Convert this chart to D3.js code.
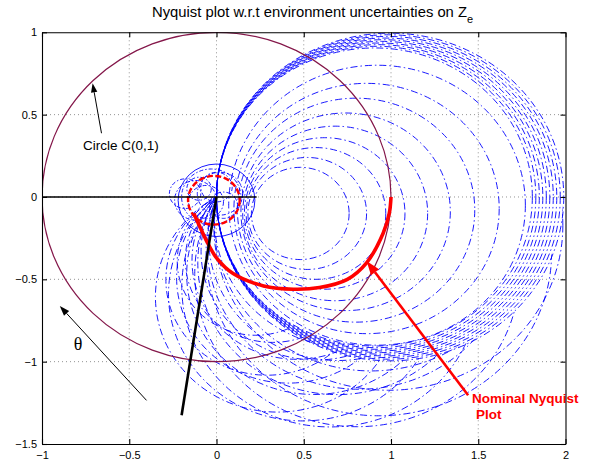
<!DOCTYPE html>
<meta charset="utf-8">
<style>
 body { margin: 0; background: white; }
 svg { font-family: 'Liberation Sans', Arial, Helvetica, sans-serif; display: block; }
</style>
<svg width="597" height="468"></svg>
<script src="https://d3js.org/d3.v7.min.js"></script>
<script>
 var nominalRe = [1.0, 0.99, 0.955, 0.86, 0.75, 0.59, 0.44, 0.27, 0.095, 0.0, -0.06, -0.1, -0.13];
 var nominalIm = [0.0, -0.1, -0.22, -0.4, -0.5, -0.55, -0.56, -0.54, -0.465, -0.37, -0.26, -0.17, -0.1];
 // small nominal loop round the origin: centre and radius
 var nomLoop = [-0.015, -0.02, 0.148];

 // outer band of uncertain plots: loops through the origin, radius
 var bandRadius = [0.995, 0.985, 0.975, 0.965, 0.955, 0.945, 0.935, 0.925, 0.915, 0.905];
 // inner uncertain plots, nested inside the band: centre and radius
 var innerRe = [0.92, 0.86, 0.8, 0.74, 0.68, 0.62, 0.57, 0.52, 0.48];
 var innerIm = [-0.05, -0.07, -0.08, -0.09, -0.1, -0.1, -0.1, -0.1, -0.1];
 var innerR = [0.85, 0.76, 0.68, 0.6, 0.53, 0.46, 0.4, 0.34, 0.28];
 // rotated uncertain plots (outside the band): centre direction (deg) and radius
 var rotAngle = [-10, -10, -10, -20, -20, -20, -30, -30, -30, -40, -40, -40, -50, -50, -50, -60, -60, -60];
 var rotRadius = [1.0, 0.9, 0.78, 0.99, 0.87, 0.74, 0.93, 0.8, 0.66, 0.85, 0.73, 0.6, 0.77, 0.64, 0.5, 0.7, 0.58, 0.45];
 // small loops of the uncertain plots near the origin
 var loopRe = [0.0, -0.03, 0.02, -0.06, 0.04, -0.1, -0.12, 0.0, -0.18];
 var loopIm = [-0.02, 0.0, 0.02, -0.03, -0.05, 0.05, -0.02, 0.06, 0.02];
 var loopR = [0.22, 0.17, 0.13, 0.1, 0.08, 0.07, 0.12, 0.09, 0.09];

 var xTicks = [-1, -0.5, 0, 0.5, 1, 1.5, 2];
 var yTicks = [-1.5, -1, -0.5, 0, 0.5, 1];

 var svg = d3.select('svg');
 var x = d3.scaleLinear().domain([-1, 2]).range([42, 565.5]);
 var y = d3.scaleLinear().domain([-1.5, 1]).range([444, 32.3]);
 var fmt = d3.format('~g');
 var rad = Math.PI / 180;

 function rx(r) { return x(r) - x(0); }
 function ry(r) { return y(0) - y(r); }

 var defs = svg.append('defs');
 defs.append('clipPath').attr('id', 'clip')
     .append('rect')
     .attr('x', x(-1)).attr('y', y(1))
     .attr('width', x(2) - x(-1)).attr('height', y(-1.5) - y(1));
 var R0 = bandRadius[0];
 defs.append('clipPath').attr('id', 'inside')
     .append('ellipse').attr('cx', x(R0)).attr('cy', y(0)).attr('rx', rx(R0)).attr('ry', ry(R0));
 var mask = defs.append('mask').attr('id', 'outside');
 mask.append('rect').attr('width', 597).attr('height', 468).attr('fill', 'white');
 mask.append('ellipse').attr('cx', x(R0)).attr('cy', y(0)).attr('rx', rx(R0) - 1).attr('ry', ry(R0) - 1)
     .attr('fill', 'black');

 // grid
 var grid = svg.append('g').attr('stroke', '#777').attr('stroke-width', 0.8).attr('stroke-dasharray', '1,3');
 grid.selectAll('.gx').data(xTicks.slice(1, -1)).enter().append('line')
     .attr('x1', d => x(d)).attr('x2', d => x(d)).attr('y1', y(1)).attr('y2', y(-1.5));
 grid.selectAll('.gy').data(yTicks.slice(1, -1)).enter().append('line')
     .attr('y1', d => y(d)).attr('y2', d => y(d)).attr('x1', x(-1)).attr('x2', x(2));

 var plot = svg.append('g').attr('clip-path', 'url(#clip)');

 function blue(sel, dash) {
     return sel.attr('fill', 'none').attr('stroke', '#0000ff').attr('stroke-width', 0.9)
               .attr('stroke-dasharray', dash);
 }

 // uncertain Nyquist plots
 blue(plot.append('g').selectAll('ellipse').data(bandRadius).enter().append('ellipse')
     .attr('cx', r => x(r)).attr('cy', y(0))
     .attr('rx', r => rx(r)).attr('ry', r => ry(r)), '7,3,1.5,3');

 blue(plot.append('g').attr('clip-path', 'url(#inside)')
     .selectAll('ellipse').data(innerR).enter().append('ellipse')
     .attr('cx', (r, i) => x(innerRe[i])).attr('cy', (r, i) => y(innerIm[i]))
     .attr('rx', r => rx(r)).attr('ry', r => ry(r)), '7,3,1.5,3');

 blue(plot.append('g').attr('mask', 'url(#outside)')
     .selectAll('ellipse').data(rotRadius).enter().append('ellipse')
     .attr('cx', (r, i) => x(r * Math.cos(rotAngle[i] * rad)))
     .attr('cy', (r, i) => y(r * Math.sin(rotAngle[i] * rad)))
     .attr('rx', r => rx(r)).attr('ry', r => ry(r)), '7,3,1.5,3');

 blue(plot.append('g').selectAll('ellipse').data(loopR).enter().append('ellipse')
     .attr('cx', (r, i) => x(loopRe[i])).attr('cy', (r, i) => y(loopIm[i]))
     .attr('rx', r => rx(r)).attr('ry', r => ry(r)), (r, i) => i === 0 ? null : '4,2,1.5,2');

 // unit circle C(0,1)
 plot.append('ellipse')
     .attr('cx', x(0)).attr('cy', y(0)).attr('rx', rx(1)).attr('ry', ry(1))
     .attr('fill', 'none').attr('stroke', '#84174a').attr('stroke-width', 1.2);

 // nominal plot
 var line = d3.line().x(d => x(d[0])).y(d => y(d[1])).curve(d3.curveCatmullRom);
 plot.append('path')
     .datum(nominalRe.map((v, i) => [v, nominalIm[i]]))
     .attr('d', line).attr('fill', 'none').attr('stroke', '#ff0000').attr('stroke-width', 3.6);
 plot.append('ellipse')
     .attr('cx', x(nomLoop[0])).attr('cy', y(nomLoop[1]))
     .attr('rx', rx(nomLoop[2])).attr('ry', ry(nomLoop[2]))
     .attr('fill', 'none').attr('stroke', '#ff0000').attr('stroke-width', 2.4)
     .attr('stroke-dasharray', '6,2.5');

 // black lines
 plot.append('line').attr('x1', x(-1)).attr('y1', y(0)).attr('x2', x(0.23)).attr('y2', y(0))
     .attr('stroke', 'black').attr('stroke-width', 1.6);
 plot.append('line').attr('x1', x(0)).attr('y1', y(0)).attr('x2', x(-0.2)).attr('y2', y(-1.325))
     .attr('stroke', 'black').attr('stroke-width', 2.6);

 // arrows
 function arrow(x0, y0, x1, y1, color, w, len, half) {
     var px0 = x(x0), py0 = y(y0), px1 = x(x1), py1 = y(y1);
     var a = Math.atan2(py1 - py0, px1 - px0);
     var bx = px1 - len * Math.cos(a), by = py1 - len * Math.sin(a);
     svg.append('line').attr('x1', px0).attr('y1', py0).attr('x2', bx).attr('y2', by)
        .attr('stroke', color).attr('stroke-width', w);
     svg.append('path')
        .attr('d', 'M' + px1 + ',' + py1 +
              'L' + (bx + half * Math.sin(a)) + ',' + (by - half * Math.cos(a)) +
              'L' + (bx - half * Math.sin(a)) + ',' + (by + half * Math.cos(a)) + 'Z')
        .attr('fill', color);
 }
 arrow(-0.659, 0.387, -0.71, 0.69, 'black', 1, 9, 3.2);
 arrow(-0.401, -1.235, -0.898, -0.662, 'black', 1, 10, 3.5);
 arrow(1.442, -1.204, 0.86, -0.389, '#ff0000', 2.6, 14, 5);

 svg.append('text').attr('x', x(-0.765)).attr('y', y(0.285))
    .attr('font-size', 13.5).attr('fill', 'black').text('Circle C(0,1)');
 svg.append('text').attr('x', x(-0.793)).attr('y', y(-0.931)).attr('text-anchor', 'middle')
    .attr('font-family', "'Liberation Serif', 'DejaVu Serif', serif")
    .attr('font-size', 18).text('θ');
 var nom = svg.append('text').attr('fill', '#ff0000').attr('font-weight', 'bold').attr('font-size', 13.5);
 nom.append('tspan').attr('x', x(1.464)).attr('y', y(-1.251)).text('Nominal Nyquist');
 nom.append('tspan').attr('x', x(1.487)).attr('y', y(-1.35)).text('Plot');

 // axes
 svg.append('g').attr('transform', 'translate(0,' + y(-1.5) + ')')
    .call(d3.axisBottom(x).tickValues(xTicks).tickFormat(fmt).tickSizeInner(-5).tickSizeOuter(0).tickPadding(7));
 svg.append('g').attr('transform', 'translate(0,' + y(1) + ')')
    .call(d3.axisTop(x).tickValues(xTicks).tickFormat('').tickSizeInner(-5).tickSizeOuter(0));
 svg.append('g').attr('transform', 'translate(' + x(-1) + ',0)')
    .call(d3.axisLeft(y).tickValues(yTicks).tickFormat(fmt).tickSizeInner(-5).tickSizeOuter(0).tickPadding(5));
 svg.append('g').attr('transform', 'translate(' + x(2) + ',0)')
    .call(d3.axisRight(y).tickValues(yTicks).tickFormat('').tickSizeInner(-5).tickSizeOuter(0));
 svg.selectAll('.tick text').attr('font-size', 11).attr('fill', 'black')
    .attr('font-family', "'Liberation Sans', Arial, sans-serif");
 svg.selectAll('.domain, .tick line').attr('stroke', 'black').attr('stroke-width', 1.1);

 // title
 var title = svg.append('text').attr('x', 152).attr('y', 17).attr('font-size', 14.8).attr('fill', 'black');
 title.append('tspan').text('Nyquist plot w.r.t environment uncertainties on Z');
 title.append('tspan').attr('dy', 6).attr('font-size', 11).text('e');
</script>
